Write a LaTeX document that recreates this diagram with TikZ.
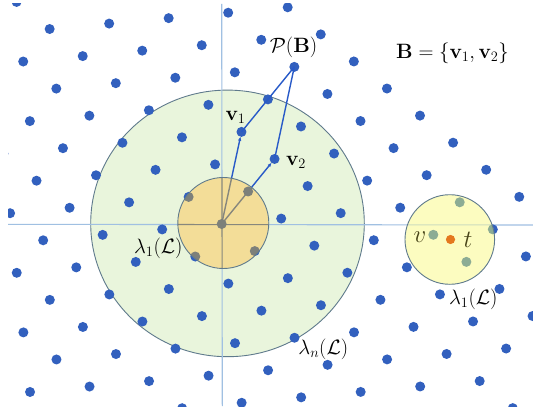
\documentclass[tikz,border=0pt]{standalone}
\usepackage{amsmath}
\usetikzlibrary{arrows.meta}
\definecolor{dotblue}{RGB}{50,96,190}
\definecolor{vecblue}{RGB}{40,90,200}
\definecolor{greenfill}{RGB}{233,245,220}
\definecolor{rimcol}{RGB}{95,122,140}
\definecolor{axiscol}{RGB}{160,192,226}
\definecolor{yellowfill}{RGB}{243,221,152}
\definecolor{graydot}{RGB}{125,128,122}
\definecolor{grayline}{RGB}{135,135,125}
\definecolor{paleyellow}{RGB}{252,252,192}
\definecolor{sagedot}{RGB}{140,172,148}
\definecolor{sageline}{RGB}{205,220,190}
\definecolor{tcol}{RGB}{228,120,30}
\definecolor{olive}{RGB}{72,68,24}
\tikzset{
  axisline/.style={draw=axiscol, line width=1.1pt},
  rim/.style={draw=rimcol, line width=0.9pt},
  vecline/.style={draw=vecblue, line width=1.4pt},
  arrowvec/.style={vecline, -{Latex[length=4.5pt,width=3.5pt]}, shorten >=4.5pt},
  lbl/.style={inner sep=0pt, font=\fontsize{20}{24}\selectfont},
  biglbl/.style={inner sep=0pt, text=olive, font=\fontsize{30}{34}\selectfont}
}
\begin{document}
\begin{tikzpicture}[x=1pt,y=-1pt]
\useasboundingbox (0,0) rectangle (533,412);
\fill[white] (0,0) rectangle (533,412);
\coordinate (O) at (221.7,224);
\coordinate (v1) at (241.5,131.9);
\coordinate (v2) at (274.6,159.0);
\coordinate (PB) at (294.3,66.9);
\coordinate (xl) at (8,224.3);
\coordinate (xr) at (533,225);
\coordinate (yt) at (221.7,4);
\coordinate (yb) at (222.3,406);
\coordinate (C2) at (223.3,223);
\coordinate (C3) at (449.8,239.5);
\coordinate (tpt) at (450.5,239.5);
\begin{scope}
\clip (8,4) rectangle (533,406);
% big green disc
\fill[greenfill] (227.5,223.4) ellipse [x radius=136.8pt, y radius=133.3pt];
\draw[rim] (227.5,223.4) ellipse [x radius=136.8pt, y radius=133.3pt];
% axes
\draw[axisline] (xl) -- (xr);
\draw[axisline] (yt) -- (yb);
% lattice
\foreach \m in {-9,...,5}{
  \foreach \n in {-10,...,8}{
    \fill[dotblue] ({221.7+26.43*\m-33.08*\n},{224-32.51*\m-27.08*\n}) circle (5pt);
  }
}
% basis vectors and parallelepiped
\draw[arrowvec] (O) -- (v1);
\draw[arrowvec] (O) -- (v2);
\draw[vecline] (v1) -- (PB);
\draw[vecline] (v2) -- (PB);
% small yellow disc (lambda_1)
\begin{scope}
\clip (C2) circle (45.5pt);
\fill[yellowfill] (C2) circle (45.5pt);
\draw[draw=grayline, line width=1.1pt] (xl) -- (xr);
\draw[draw=grayline, line width=1.1pt] (yt) -- (yb);
\draw[draw=grayline, line width=1.4pt] (O) -- (v1);
\draw[draw=grayline, line width=1.4pt] (O) -- (v2);
\foreach \m in {-3,...,3}{
  \foreach \n in {-3,...,3}{
    \fill[graydot] ({221.7+26.43*\m-33.08*\n},{224-32.51*\m-27.08*\n}) circle (5pt);
  }
}
\end{scope}
\draw[rim] (C2) circle (45.5pt);
% CVP disc
\begin{scope}
\clip (C3) circle (44.8pt);
\fill[paleyellow] (C3) circle (44.8pt);
\draw[draw=sageline, line width=1.1pt] (xl) -- (xr);
\foreach \m in {1,...,6}{
  \foreach \n in {-7,...,-2}{
    \fill[sagedot] ({221.7+26.43*\m-33.08*\n},{224-32.51*\m-27.08*\n}) circle (5pt);
  }
}
\end{scope}
\draw[rim] (C3) circle (44.8pt);
\fill[tcol] (tpt) circle (4.6pt);
\end{scope}
% labels
\node[lbl] (lv1) at (235.5,117.5) {$\mathbf{v}_1$};
\node[lbl] (lv2) at (296,162) {$\mathbf{v}_2$};
\node[lbl] (lpb) at (293.5,47.5) {$\mathcal{P}(\mathbf{B})$};
\node[lbl] (lb) at (452.5,53) {$\mathbf{B}=\{\mathbf{v}_1,\mathbf{v}_2\}$};
\node[lbl] (ll1) at (158.3,248.3) {$\lambda_1(\mathcal{L})$};
\node[lbl] (ll2) at (473.3,299) {$\lambda_1(\mathcal{L})$};
\node[lbl] (lln) at (323.3,349) {$\lambda_n(\mathcal{L})$};
\node[biglbl] (lv) at (420,237) {$v$};
\node[biglbl] (lt) at (468,239.5) {$t$};
\end{tikzpicture}
\end{document}
